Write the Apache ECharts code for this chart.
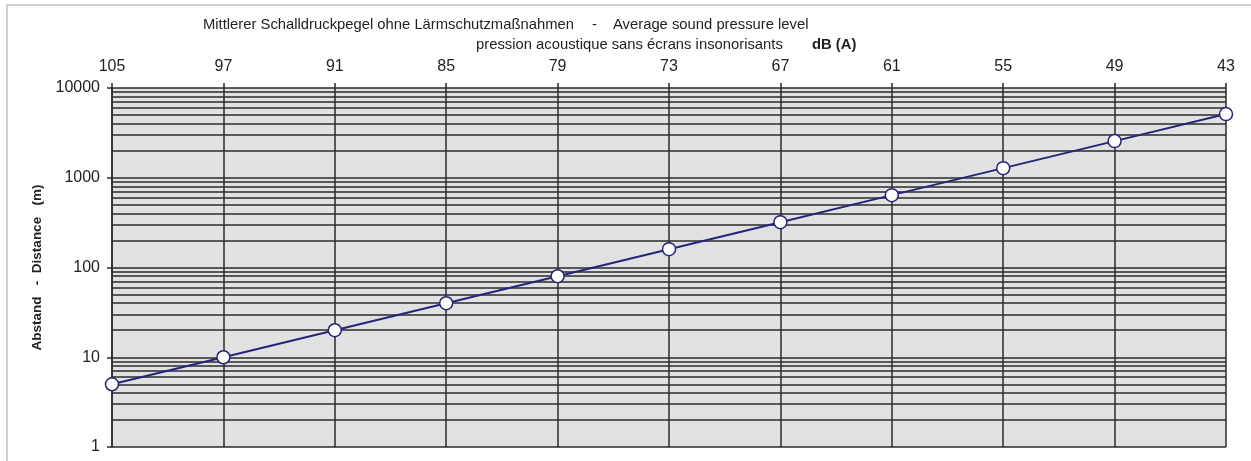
<!DOCTYPE html>
<html>
<head>
<meta charset="utf-8">
<script src="https://cdn.jsdelivr.net/npm/echarts@6/dist/echarts.min.js"></script>
<style>
  html, body { margin: 0; padding: 0; background: #ffffff; }
  #chart { width: 1251px; height: 461px; }
</style>
</head>
<body>
<div id="chart"></div>
<script>
// Sound level in dB(A) along the top axis, distance in metres on a log scale
const levels = ['105', '97', '91', '85', '79', '73', '67', '61', '55', '49', '43'];
const distances = [5, 10, 20, 40, 80, 160, 320, 640, 1280, 2560, 5120];
const decades = [1, 10, 100, 1000];
const multiples = [2, 3, 4, 5, 6, 7, 8, 9];

const titleLine1a = 'Mittlerer Schalldruckpegel ohne Lärmschutzmaßnahmen';
const titleDash = '-';
const titleLine1b = 'Average sound pressure level';
const titleLine2 = 'pression acoustique sans écrans insonorisants';
const unitLabel = 'dB (A)';
const yName = 'Abstand   -  Distance   (m)';

// intermediate grid lines of the log scale (2..9 within each decade)
const minorLines = [];
decades.forEach(d => multiples.forEach(m => minorLines.push({ yAxis: d * m })));

const FONT = 'Liberation Sans, Arial, sans-serif';
const NAVY = '#242478';
const GRID = '#2a2a2a';
const TITLE_FONT = '14.8px ' + FONT;

const chart = echarts.init(document.getElementById('chart'), null, { renderer: 'canvas' });

chart.setOption({
  animation: false,
  backgroundColor: '#ffffff',
  grid: {
    left: 112, right: 25, top: 88, bottom: 14,
    show: true, backgroundColor: '#e1e1e1', borderWidth: 0
  },
  graphic: [
    { type: 'rect', shape: { x: 7, y: 5, width: 1260, height: 480 },
      style: { fill: 'none', stroke: '#d0d0d0', lineWidth: 2 }, silent: true },
    { type: 'text', left: 203, top: 17,
      style: { text: titleLine1a, font: TITLE_FONT, fill: '#222' } },
    { type: 'text', left: 592, top: 17,
      style: { text: titleDash, font: TITLE_FONT, fill: '#222' } },
    { type: 'text', left: 613, top: 17,
      style: { text: titleLine1b, font: TITLE_FONT, fill: '#222' } },
    { type: 'text', left: 476, top: 37,
      style: { text: titleLine2, font: TITLE_FONT, fill: '#222' } },
    { type: 'text', left: 812, top: 37,
      style: { text: unitLabel, font: 'bold ' + TITLE_FONT, fill: '#222' } }
  ],
  xAxis: {
    type: 'category',
    position: 'top',
    data: levels,
    boundaryGap: false,
    axisLine: { show: false },
    axisTick: { show: true, length: 5, lineStyle: { color: GRID, width: 1.5 } },
    axisLabel: { margin: 13, fontFamily: FONT, fontSize: 16, color: '#222' },
    splitLine: { show: true, lineStyle: { color: GRID, width: 1.5 } }
  },
  yAxis: {
    type: 'log',
    logBase: 10,
    min: 1,
    max: 10000,
    name: yName,
    nameLocation: 'middle',
    nameGap: 68,
    nameTextStyle: { fontFamily: FONT, fontSize: 13.5, fontWeight: 'bold', color: '#222' },
    axisLine: { show: true, lineStyle: { color: GRID, width: 1.5 } },
    axisTick: { show: true, length: 5, lineStyle: { color: GRID, width: 1.5 } },
    axisLabel: {
      margin: 12, fontFamily: FONT, fontSize: 16, color: '#222',
      formatter: v => String(Math.round(v))
    },
    splitLine: { show: true, lineStyle: { color: GRID, width: 1.5 } },
    minorTick: { show: false },
    minorSplitLine: { show: false }
  },
  series: [{
    type: 'line',
    data: distances,
    z: 3,
    symbol: 'circle',
    symbolSize: 13,
    showAllSymbol: true,
    lineStyle: { color: NAVY, width: 2 },
    itemStyle: { color: '#ffffff', borderColor: NAVY, borderWidth: 1.5 },
    markLine: {
      z: 1,
      silent: true,
      symbol: 'none',
      label: { show: false },
      lineStyle: { color: GRID, width: 1.5, type: 'solid' },
      emphasis: { disabled: true },
      data: minorLines
    }
  }]
});
</script>
</body>
</html>
